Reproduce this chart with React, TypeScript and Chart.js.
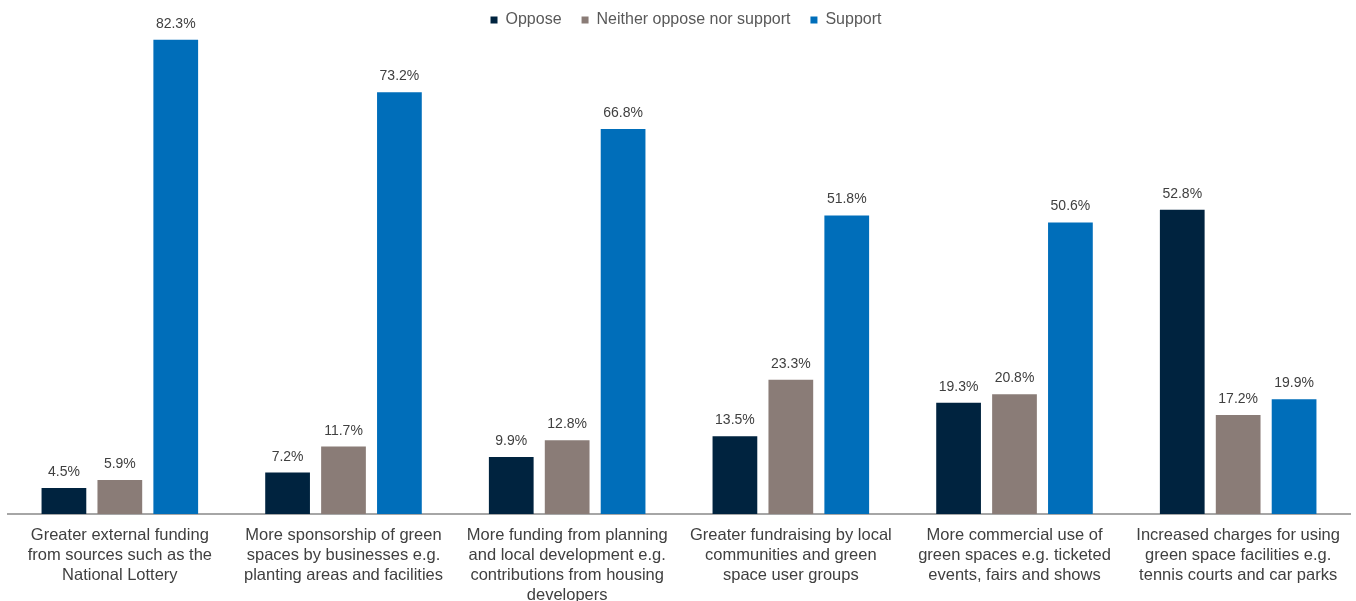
import React, { useEffect, useRef } from "react";
import { Chart, registerables } from "chart.js";

Chart.register(...registerables);

const categories: string[][] = [
  ["Greater external funding", "from sources such as the", "National Lottery"],
  ["More sponsorship of green", "spaces by businesses e.g.", "planting areas and facilities"],
  ["More funding from planning", "and local development e.g.", "contributions from housing", "developers"],
  ["Greater fundraising by local", "communities and green", "space user groups"],
  ["More commercial use of", "green spaces e.g. ticketed", "events, fairs and shows"],
  ["Increased charges for using", "green space facilities e.g.", "tennis courts and car parks"],
];

const opposeValues = [4.5, 7.2, 9.9, 13.5, 19.3, 52.8];
const neitherValues = [5.9, 11.7, 12.8, 23.3, 20.8, 17.2];
const supportValues = [82.3, 73.2, 66.8, 51.8, 50.6, 19.9];

const seriesNames = ["Oppose", "Neither oppose nor support", "Support"];
const seriesColors = ["#00233F", "#8A7C77", "#006EBA"];

const FONT = "'Liberation Sans', Arial, sans-serif";

const valueLabels = {
  id: "valueLabels",
  afterDatasetsDraw(chart: any) {
    const ctx = chart.ctx;
    ctx.save();
    ctx.font = `14px ${FONT}`;
    ctx.fillStyle = "#404040";
    ctx.textAlign = "center";
    ctx.textBaseline = "alphabetic";
    chart.data.datasets.forEach((ds: any, i: number) => {
      const meta = chart.getDatasetMeta(i);
      meta.data.forEach((bar: any, j: number) => {
        const v = ds.data[j];
        ctx.fillText(v.toFixed(1) + "%", bar.x, bar.y - 12);
      });
    });
    ctx.restore();
  },
};

const legendShift = {
  id: "legendShift",
  afterLayout(chart: any) {
    if (chart.legend) {
      chart.legend.left += 7;
      chart.legend.right += 7;
    }
  },
};

export default function App() {
  const ref = useRef<HTMLCanvasElement>(null);
  useEffect(() => {
    if (!ref.current) return;
    const chart = new Chart(ref.current, {
      type: "bar",
      data: {
        labels: categories,
        datasets: [opposeValues, neitherValues, supportValues].map((d, i) => ({
          label: seriesNames[i],
          data: d,
          backgroundColor: seriesColors[i],
          borderWidth: 0,
          barPercentage: 0.8,
          categoryPercentage: 0.75,
        })),
      },
      options: {
        animation: false,
        responsive: true,
        maintainAspectRatio: false,
        layout: { padding: { left: 8, right: 6, top: -8, bottom: 0 } },
        plugins: {
          tooltip: { enabled: false },
          legend: {
            position: "top",
            labels: {
              boxWidth: 7,
              boxHeight: 7,
              padding: 20,
              color: "#595959",
              font: { family: FONT, size: 16 },
            },
          },
        },
        scales: {
          x: {
            grid: { display: false },
            border: { display: true, color: "#A6A6A6", width: 2 },
            ticks: {
              color: "#404040",
              font: { family: FONT, size: 16.5, lineHeight: 1.2 },
              padding: 4,
              maxRotation: 0,
              autoSkip: false,
            },
            afterFit: (scale: any) => {
              scale.height = 87;
            },
          },
          y: {
            display: false,
            min: 0,
            max: 82.6,
          },
        },
      },
      plugins: [valueLabels, legendShift],
    });
    return () => chart.destroy();
  }, []);
  return (
    <div style={{ position: "fixed", left: 0, top: 0, width: 1356, height: 601, background: "#fff" }}>
      <canvas ref={ref} />
    </div>
  );
}
